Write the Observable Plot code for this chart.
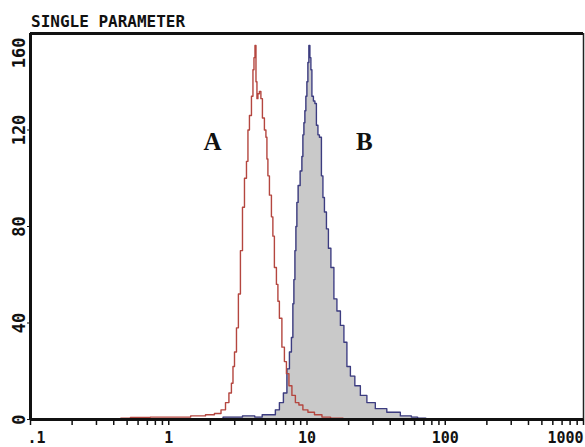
<!DOCTYPE html>
<html>
<head>
<meta charset="utf-8">
<script src="https://cdn.jsdelivr.net/npm/d3@7"></script>
<script src="https://cdn.jsdelivr.net/npm/@observablehq/plot@0.6"></script>
<style>
  html, body { margin: 0; padding: 0; background: #fff; }
  #wrap { width: 585px; height: 447px; position: relative; overflow: hidden; }
  #title { height: 30px; box-sizing: border-box; padding: 13.5px 0 0 31px; font: bold 16px/16px "DejaVu Sans Mono", monospace; color: #111; }
  svg { display: block; }
</style>
</head>
<body>
<div id="wrap">
  <div id="title">SINGLE PARAMETER</div>
  <div id="chart"></div>
</div>
<script>
// Histogram A (open outline) — channel value, count
const aValues = [0.45, 0.62, 0.87, 1.22, 1.70, 2.00, 2.29, 2.49, 2.66, 2.79, 2.89, 2.94, 3.04, 3.14, 3.24, 3.36, 3.47, 3.59, 3.71, 3.77, 3.90, 4.03, 4.10, 4.17, 4.24, 4.31, 4.38, 4.45, 4.60, 4.68, 4.84, 5.00, 5.09, 5.17, 5.26, 5.44, 5.62, 5.71, 5.91, 6.11, 6.21, 6.42, 6.75, 6.98, 7.22, 7.59, 7.97, 8.52, 8.96, 9.73, 10.6, 12.1, 13.6, 16.1, 20.6];
const aCounts = [0.5, 0.8, 1, 1, 1.5, 2, 2.5, 4, 7, 11, 15, 22, 28, 38, 52, 70, 88, 100, 107, 120, 126, 134, 145, 150, 155, 140, 133, 135, 136, 133, 125, 120, 117, 108, 101, 93, 84, 76, 63, 56, 49, 42, 30, 24, 19, 14, 10, 7, 6, 4, 3, 2, 1, 0.5, 0];

// Histogram B (filled) — channel value, count
const bValues = [2.30, 2.66, 2.99, 3.90, 4.50, 5.00, 5.71, 6.11, 6.53, 6.98, 7.34, 7.59, 7.84, 7.97, 8.11, 8.25, 8.38, 8.52, 8.74, 9.11, 9.26, 9.42, 9.58, 9.73, 9.90, 10.07, 10.23, 10.41, 10.58, 10.76, 10.94, 11.31, 11.5, 11.89, 12.1, 12.5, 12.93, 13.14, 13.6, 14.05, 14.52, 15.26, 16.05, 16.87, 18.03, 18.96, 19.92, 21.3, 23.1, 25.6, 28.7, 33.9, 42.1, 53.2, 60.8, 65.5, 80];
const bCounts = [0, 1, 1, 1.5, 1, 2, 2, 4, 7, 11, 21, 28, 34, 48, 58, 70, 80, 90, 97, 103, 109, 118, 123, 128, 134, 140, 148, 155, 150, 145, 134, 132, 131, 122, 118, 117, 101, 92, 86, 79, 71, 63, 50, 45, 39, 32, 22, 18, 14, 10, 7, 4.5, 3, 1.5, 1, 0.5, 0];

// Peak labels
const peakNames = ["A", "B"];
const peakLabelX = [2.07, 26.0];
const peakLabelY = [115, 115];

// Axis ticks
const xMinorTicks = [0.1,0.2,0.3,0.4,0.5,0.6,0.7,0.8,0.9,1,2,3,4,5,6,7,8,9,10,20,30,40,50,60,70,80,90,100,200,300,400,500,600,700,800,900,1000];
const xMidLabels = [1, 10, 100];
const xFirstLabel = [0.1];
const xLastLabel = [1000];
const yLabels = [0, 40, 80, 120];
const yTopLabel = [160];

const A = aValues.map((v, i) => ({v, c: aCounts[i]}));
const B = bValues.map((v, i) => ({v, c: bCounts[i]}));
const peaks = peakNames.map((t, i) => ({t, x: peakLabelX[i], y: peakLabelY[i]}));

const fmtX = d => d === 0.1 ? ".1" : String(d);
const mono = "DejaVu Sans Mono";

const chart = Plot.plot({
  width: 585,
  height: 417,
  marginLeft: 30,
  marginRight: 2,
  marginTop: 3,
  marginBottom: 28,
  x: {type: "log", domain: [0.1, 1000], label: null},
  y: {domain: [0, 160], label: null},
  style: {background: "#fff", color: "#111"},
  marks: [
    Plot.areaY(B, {x: "v", y: "c", curve: "step", fill: "#c9c9c9"}),
    Plot.line(B, {x: "v", y: "c", curve: "step", stroke: "#3c3c80", strokeWidth: 1.4}),
    Plot.line(A, {x: "v", y: "c", curve: "step", stroke: "#b4463f", strokeWidth: 1.4}),
    Plot.text(peaks, {x: "x", y: "y", text: "t", fontFamily: "Liberation Serif", fontWeight: "bold", fontSize: 25, fill: "#111"}),
    Plot.axisX({ticks: xMinorTicks, tickFormat: () => "", tickSize: 6, strokeWidth: 1.5, label: null}),
    Plot.axisX({ticks: xMidLabels, tickFormat: fmtX, tickSize: 0, tickPadding: 13, fontSize: 15, fontFamily: mono, fontWeight: "bold", label: null}),
    Plot.axisX({ticks: xFirstLabel, tickFormat: fmtX, tickSize: 0, tickPadding: 13, textAnchor: "start", dx: -3, fontSize: 15, fontFamily: mono, fontWeight: "bold", label: null}),
    Plot.axisX({ticks: xLastLabel, tickFormat: fmtX, tickSize: 0, tickPadding: 13, textAnchor: "end", fontSize: 15, fontFamily: mono, fontWeight: "bold", label: null}),
    Plot.axisY({ticks: yLabels, tickRotate: -90, tickSize: 3, tickPadding: 3, fontSize: 17, fontFamily: mono, fontWeight: "bold", label: null}),
    Plot.axisY({ticks: yTopLabel, tickRotate: -90, textAnchor: "end", tickSize: 0, tickPadding: 6, dy: 4, fontSize: 17, fontFamily: mono, fontWeight: "bold", label: null}),
    Plot.ruleY([0], {stroke: "#111", strokeWidth: 3}),
    Plot.ruleY([160], {stroke: "#111", strokeWidth: 3}),
    Plot.ruleX([0.1], {stroke: "#111", strokeWidth: 3}),
    Plot.ruleX([1000], {stroke: "#222", strokeWidth: 1.5})
  ]
});
document.getElementById("chart").appendChild(chart);
</script>
</body>
</html>
